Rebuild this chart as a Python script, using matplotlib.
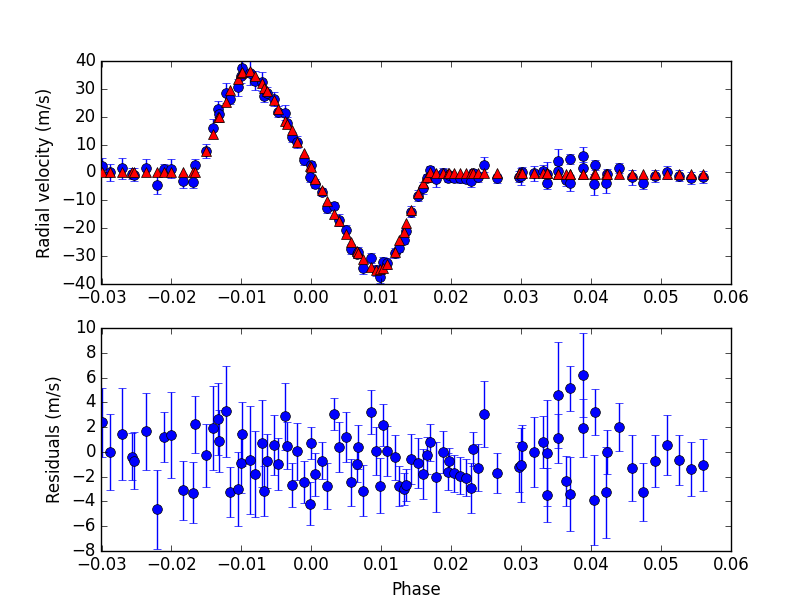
import matplotlib
matplotlib.use("Agg")
import matplotlib.pyplot as plt
import numpy as np

plt.style.use('classic')
plt.rcParams['font.family'] = ['DejaVu Sans']

phase = [-0.0300, -0.0288, -0.0271, -0.0257, -0.0253, -0.0237, -0.0220, -0.0211, -0.0200, -0.0184,
         -0.0169, -0.0166, -0.0150, -0.0140, -0.0133, -0.0132, -0.0122, -0.0116, -0.0105, -0.0100,
         -0.0099, -0.0088, -0.0081, -0.0071, -0.0067, -0.0064, -0.0054, -0.0047, -0.0037, -0.0034,
         -0.0028, -0.0020, -0.0011, -0.0002, -0.0001, 0.0006, 0.0015, 0.0023, 0.0033, 0.0040,
         0.0049, 0.0057, 0.0066, 0.0067, 0.0074, 0.0085, 0.0092, 0.0099, 0.0102, 0.0109,
         0.0120, 0.0126, 0.0132, 0.0136, 0.0143, 0.0153, 0.0160, 0.0165, 0.0170, 0.0178,
         0.0188, 0.0196, 0.0197, 0.0204, 0.0212, 0.0221, 0.0229, 0.0231, 0.0239, 0.0247,
         0.0265, 0.0297, 0.0300, 0.0302, 0.0319, 0.0332, 0.0337, 0.0337, 0.0353, 0.0353,
         0.0365, 0.0370, 0.0370, 0.0388, 0.0389, 0.0405, 0.0406, 0.0422, 0.0423, 0.0440,
         0.0458, 0.0475, 0.0492, 0.0509, 0.0526, 0.0543, 0.0560]

residual = [2.4, 0.0, 1.43, -0.4, -0.73, 1.67, -4.63, 1.21, 1.35, -3.1,
            -3.3, 2.23, -0.27, 1.94, 2.66, 0.89, 3.28, -3.26, -3.0, -0.91,
            1.43, -0.65, -1.78, 0.7, -3.17, -0.73, 0.57, -1.0, 2.88, 0.51,
            -2.69, 0.05, -2.45, -4.2, 0.7, -1.80, -0.73, -2.74, 3.07, 0.4,
            1.21, -2.45, -1.0, 0.4, -3.15, 3.23, 0.08, -2.74, 2.15, 0.08,
            -0.43, -2.74, -3.0, -2.66, -0.56, -0.91, -1.80, -0.27, 0.78, -2.02,
            -0.03, -1.61, -0.73, -1.72, -1.94, -2.1, -2.93, 0.21, -1.29, 3.07,
            -1.72, -1.21, -1.05, 0.48, -0.03, 0.78, -3.5, -0.1, 4.58, 1.1,
            -2.37, 5.14, -3.42, 1.91, 6.21, -3.9, 3.2, -3.28, -0.03, 1.99,
            -1.32, -3.26, -0.75, 0.54, -0.67, -1.4, -1.07]

error = [2.8, 3.1, 3.7, 1.9, 2.3, 3.1, 3.2, 2.0, 3.5, 2.4,
         2.45, 2.3, 2.55, 3.4, 2.95, 2.5, 3.7, 2.0, 3.0, 2.4,
         2.6, 4.4, 3.5, 3.5, 2.0, 2.2, 2.4, 2.1, 2.7, 1.9,
         1.8, 2.3, 1.7, 1.75, 1.3, 1.75, 1.5, 1.85, 1.26, 2.0,
         2.0, 1.9, 1.4, 1.75, 2.05, 1.75, 1.97, 2.24, 1.7, 2.04,
         1.83, 1.6, 1.3, 1.3, 2.0, 2.0, 2.0, 1.5, 1.5, 2.85,
         1.7, 1.5, 1.07, 1.5, 1.5, 1.5, 2.0, 1.37, 1.9, 2.7,
         1.6, 2.0, 3.0, 1.7, 2.83, 2.1, 2.2, 4.3, 4.3, 2.0,
         2.0, 1.8, 3.0, 2.34, 3.4, 3.63, 1.86, 3.7, 1.78, 1.94,
         2.67, 2.35, 2.1, 2.42, 2.0, 2.2, 2.1]

model = [0.0, 0.0, 0.0, 0.0, 0.0, 0.0, 0.0, 0.0, 0.0, 0.0,
         0.0, 0.3, 7.85, 14.0, 20.1, 20.1, 25.3, 29.8, 33.6, 35.6,
         36.2, 36.4, 34.8, 32.0, 30.5, 29.3, 25.9, 22.9, 18.6, 17.4,
         15.3, 10.9, 6.9, 2.4, 2.0, -2.2, -6.4, -10.1, -15.0, -17.5,
         -22.0, -25.0, -28.4, -28.9, -31.2, -34.1, -35.2, -34.8, -34.3, -32.8,
         -28.6, -24.4, -21.3, -18.2, -13.6, -7.5, -3.8, -1.6, 0.2, -0.2,
         -0.2, -0.2, -0.2, -0.2, -0.2, -0.2, -0.3, -0.3, -0.3, -0.3,
         -0.3, -0.3, -0.3, -0.3, -0.3, -0.3, -0.3, -0.3, -0.4, -0.4,
         -0.4, -0.4, -0.4, -0.4, -0.4, -0.4, -0.4, -0.4, -0.4, -0.4,
         -0.4, -0.5, -0.5, -0.5, -0.5, -0.5, -0.5]

phase = np.array(phase)
residual = np.array(residual)
error = np.array(error)
model = np.array(model)
observed = model + residual

fig = plt.figure(figsize=(8.12, 6.12), dpi=100)
fig.subplots_adjust(left=0.125, right=0.9, top=0.9, bottom=0.1, hspace=0.2)

ax1 = fig.add_subplot(2, 1, 1)
ax1.errorbar(phase, observed, yerr=error, fmt='o', color='b', ecolor='b',
             markersize=7, markeredgecolor='k', markeredgewidth=0.5,
             capsize=3, elinewidth=1, zorder=2)
ax1.plot(phase, model, '^', color='r', markersize=7, markeredgecolor='k',
         markeredgewidth=0.5, zorder=3)
ax1.set_xlim(-0.03, 0.06)
ax1.set_ylim(-40, 40)
ax1.set_ylabel('Radial velocity (m/s)')

ax2 = fig.add_subplot(2, 1, 2)
ax2.errorbar(phase, residual, yerr=error, fmt='o', color='b', ecolor='b',
             markersize=7, markeredgecolor='k', markeredgewidth=0.5,
             capsize=3, elinewidth=1)
ax2.set_xlim(-0.03, 0.06)
ax2.set_ylim(-8, 10)
ax2.set_xlabel('Phase')
ax2.set_ylabel('Residuals (m/s)')

fig.savefig('out.png', dpi=100)
